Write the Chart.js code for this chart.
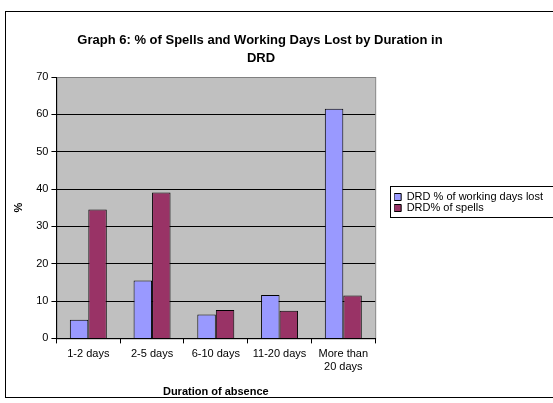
<!DOCTYPE html>
<html>
<head>
<meta charset="utf-8">
<script src="https://cdn.jsdelivr.net/npm/chart.js@4/dist/chart.umd.min.js"></script>
<style>
  html, body { margin: 0; padding: 0; background: #fff; }
  #wrap { position: relative; width: 553px; height: 403px; }
</style>
</head>
<body>
<div id="wrap"><canvas id="chart"></canvas></div>
<script>
const duracoes = ['1-2 days', '2-5 days', '6-10 days', '11-20 days', ['More than', '20 days']];
const diasPerdidos = [5.0, 15.5, 6.4, 11.6, 61.5];
const spells = [34.5, 39.1, 7.6, 7.4, 11.5];
const serieNomes = ['DRD % of working days lost', 'DRD% of spells'];
const yTicks = [0, 10, 20, 30, 40, 50, 60, 70];
const tituloLinhas = ['Graph 6: % of Spells and Working Days Lost by Duration in', 'DRD'];

const fonte = 'Arial, "Liberation Sans", sans-serif';

// moldura, fundo cinza da area do grafico, titulo e caixa da legenda
const decor = {
  id: 'decor',
  beforeDraw(chart) {
    const { ctx, chartArea: a } = chart;
    ctx.save();
    ctx.fillStyle = '#c0c0c0';
    ctx.fillRect(a.left, a.top, a.right - a.left, a.bottom - a.top);
    ctx.strokeStyle = '#808080';
    ctx.lineWidth = 1;
    ctx.strokeRect(a.left + 0.5, a.top + 0.5, a.right - a.left, a.bottom - a.top);
    ctx.restore();
  },
  afterDraw(chart) {
    const { ctx, legend } = chart;
    ctx.save();
    ctx.strokeStyle = '#000';
    ctx.lineWidth = 1;
    ctx.strokeRect(5.5, 11.5, 600, 386);
    ctx.fillStyle = '#000';
    ctx.font = 'bold 13px ' + fonte;
    ctx.textAlign = 'center';
    ctx.textBaseline = 'middle';
    ctx.fillText(tituloLinhas[0], 260, 40);
    ctx.fillText(tituloLinhas[1], 261, 58);
    const hb = legend && legend.legendHitBoxes;
    if (hb && hb.length) {
      const first = hb[0], last = hb[hb.length - 1];
      const x0 = Math.round(first.left) - 4, y0 = Math.round(first.top) - 6;
      const y1 = Math.round(last.top + last.height) + 3;
      ctx.strokeRect(x0 + 0.5, y0 + 0.5, 200, y1 - y0);
    }
    ctx.restore();
  }
};

new Chart(document.getElementById('chart'), {
  type: 'bar',
  data: {
    labels: duracoes,
    datasets: [
      { label: serieNomes[0], data: diasPerdidos, backgroundColor: '#9999ff', borderColor: '#000', borderWidth: 1, borderSkipped: 'bottom' },
      { label: serieNomes[1], data: spells, backgroundColor: '#993366', borderColor: '#000', borderWidth: 1, borderSkipped: 'bottom' }
    ]
  },
  options: {
    responsive: true,
    maintainAspectRatio: false,
    animation: false,
    layout: { padding: { top: 6, left: 12, right: 0, bottom: 4 } },
    datasets: { bar: { categoryPercentage: 0.58, barPercentage: 1 } },
    plugins: {
      // bloco vazio so para reservar a altura do titulo (desenhado no plugin)
      title: {
        display: true,
        text: ' ',
        fullSize: false,
        font: { size: 10, lineHeight: 1 },
        padding: { top: 61, bottom: 0 }
      },
      tooltip: { enabled: false },
      legend: {
        position: 'right',
        fullSize: true,
        maxWidth: 200,
        labels: {
          color: '#000',
          font: { size: 11, family: fonte },
          boxWidth: 7,
          boxHeight: 7,
          padding: 0
        }
      }
    },
    scales: {
      x: {
        grid: { display: true, drawOnChartArea: false, offset: true, color: '#000', tickLength: 5 },
        border: { color: '#000' },
        ticks: { color: '#000', font: { size: 11, family: fonte }, maxRotation: 0, padding: 4 },
        title: { display: true, text: 'Duration of absence', color: '#000', font: { size: 11, weight: 'bold', family: fonte }, padding: { top: 8, bottom: 0 } }
      },
      y: {
        min: 0,
        max: 70,
        afterBuildTicks(scale) { scale.ticks = yTicks.map(v => ({ value: v })); },
        grid: {
          color: ctx => (ctx.tick && ctx.tick.value === 70) ? '#808080' : '#000',
          tickColor: '#000',
          tickLength: 5
        },
        border: { color: '#000' },
        ticks: { color: '#000', font: { size: 11, family: fonte }, padding: 3 },
        title: { display: true, text: '%', color: '#000', font: { size: 11, weight: 'bold', family: fonte }, padding: { top: 0, bottom: 8 } }
      },
      // eixo vazio so para abrir espaco entre o grafico e a legenda
      espaco: {
        position: 'right',
        min: 0,
        max: 1,
        grid: { display: false },
        border: { display: false },
        ticks: { display: false },
        afterFit(scale) { scale.width = 19; }
      }
    }
  },
  plugins: [decor]
});
</script>
</body>
</html>
